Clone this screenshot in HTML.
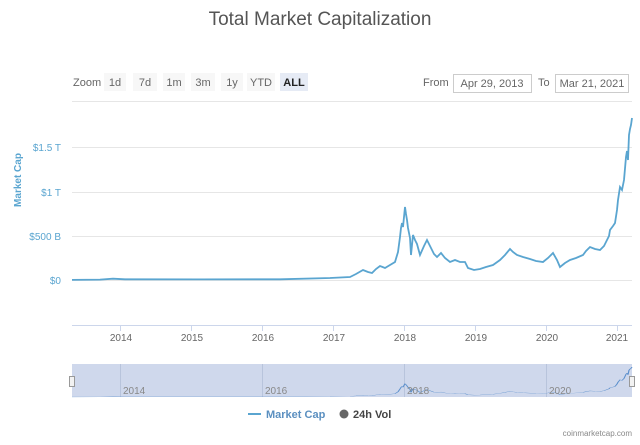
<!DOCTYPE html>
<html><head><meta charset="utf-8"><style>
body{margin:0;background:#fff;width:640px;height:440px;overflow:hidden;font-family:"Liberation Sans",sans-serif}
</style></head><body>
<svg width="640" height="440" xmlns="http://www.w3.org/2000/svg" font-family="Liberation Sans, sans-serif">
<text x="320" y="25" text-anchor="middle" font-size="19" fill="#555">Total Market Capitalization</text>
<g font-size="11" fill="#666">
<text x="73" y="86">Zoom</text>
<rect x="104" y="73" width="22" height="18" fill="#f7f7f7"/><text x="115" y="86" text-anchor="middle">1d</text>
<rect x="133" y="73" width="24" height="18" fill="#f7f7f7"/><text x="145" y="86" text-anchor="middle">7d</text>
<rect x="163" y="73" width="22" height="18" fill="#f7f7f7"/><text x="174" y="86" text-anchor="middle">1m</text>
<rect x="191" y="73" width="24" height="18" fill="#f7f7f7"/><text x="203" y="86" text-anchor="middle">3m</text>
<rect x="221" y="73" width="22" height="18" fill="#f7f7f7"/><text x="232" y="86" text-anchor="middle">1y</text>
<rect x="247" y="73" width="28" height="18" fill="#f7f7f7"/><text x="261" y="86" text-anchor="middle">YTD</text>
<rect x="280" y="73" width="28" height="18" fill="#e6ebf5"/><text x="294" y="86" text-anchor="middle" font-weight="bold" fill="#222">ALL</text>
<text x="423" y="86">From</text>
<rect x="453.5" y="74.5" width="78" height="18" fill="#fff" stroke="#ccc"/><text x="492" y="87" text-anchor="middle">Apr 29, 2013</text>
<text x="538" y="86">To</text>
<rect x="555.5" y="74.5" width="73" height="18" fill="#fff" stroke="#ccc"/><text x="592" y="87" text-anchor="middle">Mar 21, 2021</text>
</g>
<line x1="72" y1="101.5" x2="632" y2="101.5" stroke="#e6e6e6"/>
<g stroke="#e6e6e6"><line x1="72" y1="147.5" x2="632" y2="147.5"/><line x1="72" y1="192.5" x2="632" y2="192.5"/><line x1="72" y1="236.5" x2="632" y2="236.5"/><line x1="72" y1="280.5" x2="632" y2="280.5"/></g>
<g font-size="10" fill="#5aa5d0" text-anchor="end"><text x="61" y="151">$1.5 T</text><text x="61" y="196">$1 T</text><text x="61" y="240">$500 B</text><text x="61" y="284">$0</text></g>
<text transform="translate(21,180) rotate(-90)" text-anchor="middle" font-size="10" font-weight="bold" fill="#5aa5d0">Market Cap</text>
<line x1="72" y1="325.5" x2="632" y2="325.5" stroke="#ccd6eb"/>
<g stroke="#ccd6eb"><line x1="120.5" y1="325" x2="120.5" y2="331"/><line x1="191.5" y1="325" x2="191.5" y2="331"/><line x1="262.5" y1="325" x2="262.5" y2="331"/><line x1="333.5" y1="325" x2="333.5" y2="331"/><line x1="404.5" y1="325" x2="404.5" y2="331"/><line x1="475.5" y1="325" x2="475.5" y2="331"/><line x1="546.5" y1="325" x2="546.5" y2="331"/><line x1="617.5" y1="325" x2="617.5" y2="331"/></g>
<g font-size="10" fill="#666" text-anchor="middle"><text x="121" y="341">2014</text><text x="192" y="341">2015</text><text x="263" y="341">2016</text><text x="334" y="341">2017</text><text x="405" y="341">2018</text><text x="476" y="341">2019</text><text x="547" y="341">2020</text><text x="617" y="341">2021</text></g>
<defs><path id="d" d="M72,279.9 L100,279.6 L113,278.7 L125,279.3 L200,279.4 L280,279.3 L330,278 L350,277 L356,274 L363,270 L368,272 L372,273 L376,269 L380,266 L385,268 L390,265 L395,262 L398,252 L400,237 L401,228 L402,223 L403,227 L405,207 L406,214 L407,220 L408,228 L409,233 L410,238 L411,255 L413,235 L415,240 L417,244 L420,255 L424,246 L427,240 L431,248 L434,254 L437,257 L441,253 L445,258 L450,262 L455,260 L460,262 L465,262 L468,268 L474,270 L480,269 L486,267 L493,265 L500,260 L505,255 L510,249 L513,252 L517,255 L523,257 L530,259 L536,261 L543,262 L548,258 L553,253 L557,260 L560,267 L565,263 L570,260 L576,258 L583,255 L586,251 L590,247 L595,249 L600,250 L604,246 L607,240 L609,236 L610,230 L613,226 L615,223 L617,210 L618,200 L620,187 L622,190 L624,180 L626,157 L627,151 L628,160 L629,135 L630,129 L631,125 L632,118"/></defs>
<use href="#d" fill="none" stroke="#5aa5d0" stroke-width="1.8"/>
<rect x="72" y="364" width="560" height="33" fill="#cfd8ec"/>
<g stroke="#b8c4dc"><line x1="120.5" y1="364" x2="120.5" y2="397"/><line x1="262.5" y1="364" x2="262.5" y2="397"/><line x1="404.5" y1="364" x2="404.5" y2="397"/><line x1="546.5" y1="364" x2="546.5" y2="397"/></g>
<g transform="translate(0,345.2) scale(1,0.185)"><use href="#d" fill="none" stroke="#5b8fcc" stroke-width="1.2" vector-effect="non-scaling-stroke"/></g>
<g font-size="10" fill="#888"><text x="123" y="394">2014</text><text x="265" y="394">2016</text><text x="407" y="394">2018</text><text x="549" y="394">2020</text></g>
<rect x="69.5" y="376.5" width="5" height="10" fill="#f2f2f2" stroke="#999"/>
<rect x="629.5" y="376.5" width="5" height="10" fill="#f2f2f2" stroke="#999"/>
<line x1="248" y1="414" x2="261" y2="414" stroke="#5aa5d0" stroke-width="2"/>
<text x="266" y="418" font-size="11" font-weight="bold" fill="#5a8fc0">Market Cap</text>
<circle cx="344" cy="414" r="4.5" fill="#666"/>
<text x="353" y="418" font-size="11" font-weight="bold" fill="#444">24h Vol</text>
<text x="632" y="436" text-anchor="end" font-size="8" fill="#888">coinmarketcap.com</text>
</svg>
</body></html>
